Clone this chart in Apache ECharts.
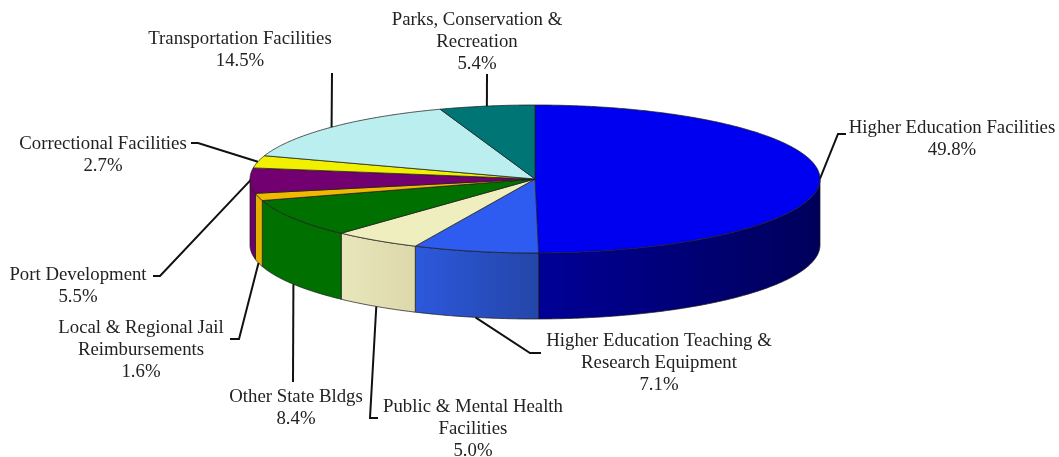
<!DOCTYPE html>
<html>
<head>
<meta charset="utf-8">
<script src="https://cdn.jsdelivr.net/npm/echarts@6/dist/echarts.min.js"></script>
<style>
  html, body { margin: 0; padding: 0; background: #fff; }
  #chart { width: 1059px; height: 457px; }
</style>
</head>
<body>
<div id="chart"></div>
<script>
const CATEGORIES = [
  'Higher Education Facilities',
  'Higher Education Teaching &\nResearch Equipment',
  'Public & Mental Health\nFacilities',
  'Other State Bldgs',
  'Local & Regional Jail\nReimbursements',
  'Port Development',
  'Correctional Facilities',
  'Transportation Facilities',
  'Parks, Conservation &\nRecreation'
];
const SHARES = [49.8, 7.1, 5.0, 8.4, 1.6, 5.5, 2.7, 14.5, 5.4];

const TOP_COLORS = ['#0000f0', '#2e5cf0', '#eeeebf', '#007000', '#f0b800', '#720070', '#f0f000', '#bbeeee', '#007575'];
// wall shading, left to right
const WALL_LEFT = ['#000096', '#2c58dc', '#e9e6bc', '#007000', '#e6b000', '#6e006c', '#f0f000', '#bbeeee', '#007575'];
const WALL_RIGHT = ['#00005a', '#2446a8', '#dcd8aa', '#007000', '#e6b000', '#6e006c', '#f0f000', '#bbeeee', '#007575'];

// label layout in page pixels: text centre, then the leader bends from the slice outwards
const LABEL_CENTERS = [[952, 139], [659, 363], [473, 429], [296, 408], [141, 350], [78, 286], [103, 155], [240, 50], [477, 42]];
const LEADER_BENDS = [
  [[838, 134], [846, 134]],
  [[530, 353], [541, 353]],
  [[370, 418], [378, 418]],
  [[293, 382]],
  [[239, 339], [230, 339]],
  [[160, 276], [153, 276]],
  [[198, 143], [191, 143]],
  [[332, 73]],
  [[487, 74]]
];

const CX = 535, CY = 179, RX = 285, RY = 74, DEPTH = 66;

const starts = [];
SHARES.reduce((sum, v, i) => { starts[i] = sum; return sum + v; }, 0);
const sliceRows = SHARES.map((v, i) => [i, starts[i] * 3.6, (starts[i] + v) * 3.6]);

function rim(deg, drop) {
  const t = deg * Math.PI / 180;
  return [CX + RX * Math.sin(t), CY - RY * Math.cos(t) + (drop || 0)];
}

function arc(from, to, drop) {
  const pts = [];
  const n = Math.max(2, Math.ceil(Math.abs(to - from) * 2));
  for (let k = 0; k <= n; k++) pts.push(rim(from + (to - from) * k / n, drop));
  return pts;
}

function renderWall(params, api) {
  const i = api.value(0);
  const from = Math.max(api.value(1), 90);
  const to = Math.min(api.value(2), 270);
  if (to <= from) return null;
  const pts = arc(from, to, 0).concat(arc(to, from, DEPTH));
  return {
    type: 'polygon',
    shape: { points: pts },
    style: {
      fill: {
        type: 'linear', x: 0, y: 0, x2: 1, y2: 0,
        colorStops: [{ offset: 0, color: WALL_LEFT[i] }, { offset: 1, color: WALL_RIGHT[i] }]
      },
      stroke: 'rgba(30,30,30,0.75)',
      lineWidth: 1
    }
  };
}

function renderTop(params, api) {
  const i = api.value(0);
  const pts = [[CX, CY]].concat(arc(api.value(1), api.value(2), 0));
  return {
    type: 'polygon',
    shape: { points: pts },
    style: { fill: TOP_COLORS[i], stroke: 'rgba(30,30,30,0.75)', lineWidth: 1 }
  };
}

function renderLabel(params, api) {
  const i = api.value(0);
  const mid = (api.value(1) + api.value(2)) / 2;
  // slices on the front wall take the leader from the bottom edge
  const anchor = rim(mid, mid > 90 && mid < 265 ? DEPTH : 0);
  const c = LABEL_CENTERS[i];
  return {
    type: 'group',
    children: [
      {
        type: 'polyline',
        shape: { points: [anchor].concat(LEADER_BENDS[i]) },
        style: { fill: null, stroke: '#111', lineWidth: 2 }
      },
      {
        type: 'text',
        x: c[0],
        y: c[1],
        style: {
          text: CATEGORIES[i] + '\n' + SHARES[i].toFixed(1) + '%',
          fontFamily: '"Liberation Serif", serif',
          fontSize: 18.8,
          lineHeight: 21.7,
          align: 'center',
          verticalAlign: 'middle',
          fill: '#222'
        }
      }
    ]
  };
}

const chart = echarts.init(document.getElementById('chart'), null, { renderer: 'canvas' });
chart.setOption({
  backgroundColor: '#fff',
  animation: false,
  series: [
    { type: 'custom', coordinateSystem: 'none', data: sliceRows, renderItem: renderWall, silent: true, z: 1 },
    { type: 'custom', coordinateSystem: 'none', data: sliceRows, renderItem: renderTop, silent: true, z: 2 },
    { type: 'custom', coordinateSystem: 'none', data: sliceRows, renderItem: renderLabel, silent: true, z: 3 }
  ]
});
</script>
</body>
</html>
